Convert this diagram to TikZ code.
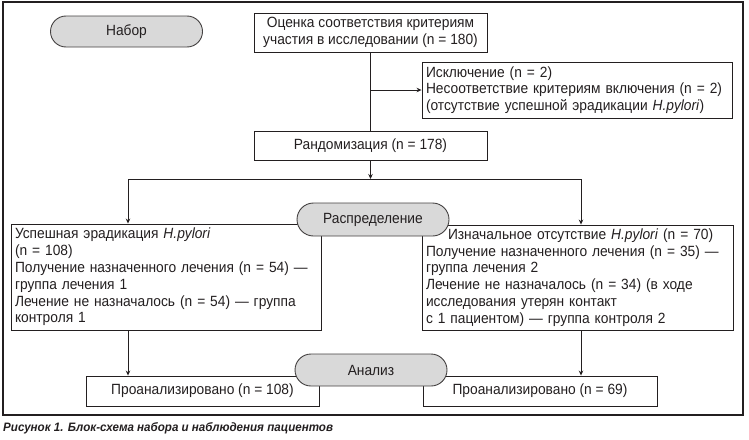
\documentclass[tikz,border=0pt]{standalone}
\usepackage{fontspec}
\setmainfont[FakeStretch=0.93]{Liberation Sans}
\newfontfamily\capfont[FakeStretch=0.95]{Liberation Sans}
\usetikzlibrary{arrows.meta,shapes.misc}
\definecolor{pillgray}{HTML}{D9D9D9}
\definecolor{ink}{HTML}{231F20}
\begin{document}
\begin{tikzpicture}[x=1pt,y=-1pt,
  every node/.style={text=ink},
  txt/.style={font=\fontsize{14.8}{16.8}\selectfont},
  box/.style={txt, draw=ink, line width=0.9pt, fill=white, inner sep=0pt},
  pill/.style={txt, rounded rectangle, draw=ink!85, line width=0.9pt, fill=pillgray, inner sep=0pt, minimum width=152pt},
  arr/.style={-{Stealth[length=5pt,width=4.5pt]}, line width=0.9pt, draw=ink},
  ln/.style={line width=0.9pt, draw=ink}]
\useasboundingbox (0,0) rectangle (749,439);
\draw[line width=1.2pt, draw=ink] (3,2) rectangle (743,415);

\node[box, minimum width=233pt, minimum height=39pt, align=center] (eval) at (370.5,32.5)
  {Оценка соответствия критериям\\участия в исследовании (n = 180)};
\node[box, minimum width=310pt, minimum height=56pt, text width=302pt, align=left] (excl) at (577,90)
  {Исключение (n = 2)\\Несоответствие критериям включения (n~=~2)\\(отсутствие успешной эрадикации \textit{H.pylori})};
\node[box, minimum width=233pt, minimum height=29pt] (rand) at (370.5,145.5) {Рандомизация (n = 178)};

\node[box, minimum width=310pt, minimum height=106pt, text width=302pt, align=left] (left) at (166,277)
  {Успешная эрадикация \textit{H.pylori}\\(n = 108)\\Получение назначенного лечения (n~=~54)~—\\группа лечения 1\\Лечение не назначалось (n = 54) — группа\\контроля 1};
\node[box, minimum width=311pt, minimum height=105pt, text width=303pt, align=left] (right) at (577.5,277.5)
  {\hspace*{22pt}Изначальное отсутствие \textit{H.pylori} (n~=~70)\\Получение назначенного лечения (n~=~35)~—\\группа лечения 2\\Лечение не назначалось (n = 34) (в ходе\\исследования утерян контакт\\с 1 пациентом) — группа контроля 2};

\node[box, minimum width=233pt, minimum height=30pt] (bl) at (202.5,391) {Проанализировано (n = 108)};
\node[box, minimum width=234pt, minimum height=30pt] (br) at (540,391) {Проанализировано (n = 69)};

\node[pill, minimum height=31pt] (nabor) at (126.5,31.5) {Набор};
\node[pill, minimum height=33pt] (raspr) at (373,219.5) {Распределение};
\node[pill, minimum height=32pt] (analiz) at (371,370) {Анализ};

\coordinate (sl) at (128,179);
\coordinate (sr) at (581,179);
\coordinate (sm) at (rand.south |- sl);

\draw[ln] (eval.south) -- (rand.north);
\draw[arr] (eval.south |- excl.west) -- (excl.west);
\draw[arr] (rand.south) -- (sm);
\draw[ln] (sl) -- (sr);
\draw[arr] (sl) -- (sl |- left.north);
\draw[arr] (sr) -- (sr |- right.north);
\draw[arr] (sl |- left.south) -- (sl |- bl.north);
\draw[arr] (sr |- right.south) -- (sr |- br.north);

\node[anchor=west, inner sep=0pt, font=\capfont\bfseries\itshape\fontsize{12.2}{13}\selectfont] (cap) at (3,428)
  {Рисунок 1. Блок-схема набора и наблюдения пациентов};
\end{tikzpicture}
\end{document}
